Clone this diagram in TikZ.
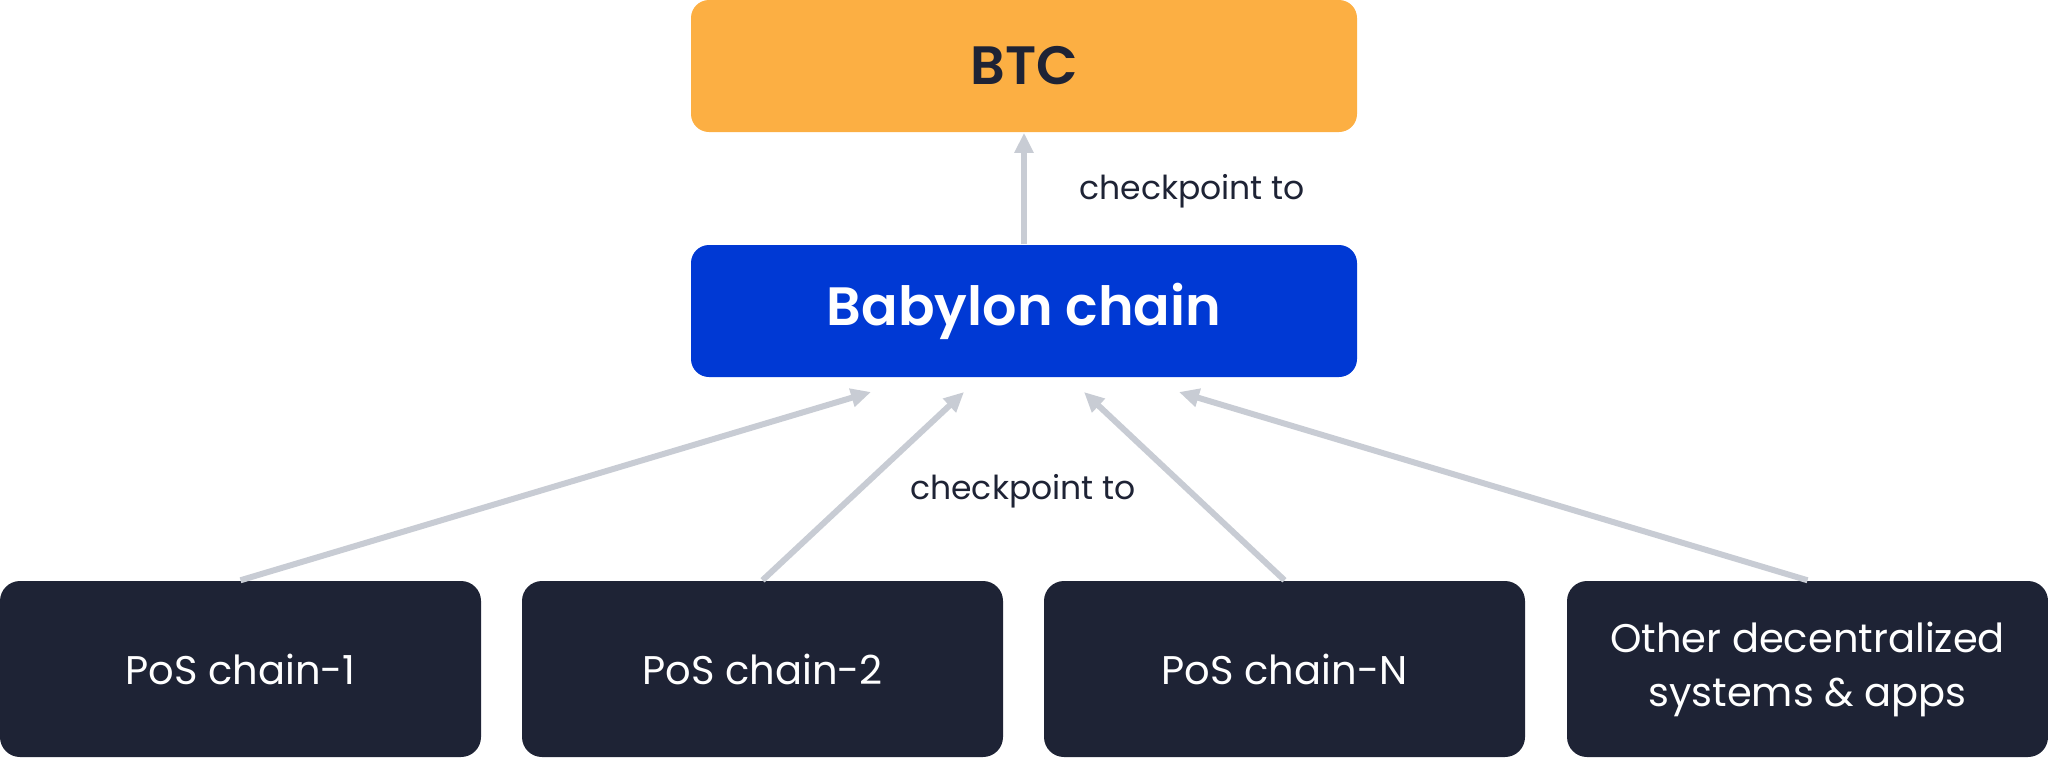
\documentclass[tikz,border=0pt]{standalone}
\usepackage{fontspec}
\setmainfont{Poppins}[BoldFont={Poppins SemiBold}]
\usetikzlibrary{arrows.meta}

\definecolor{btcorange}{RGB}{252,175,67}
\definecolor{babyblue}{RGB}{0,57,212}
\definecolor{darknavy}{RGB}{30,35,53}
\definecolor{arrowgrey}{RGB}{200,204,212}

\tikzset{every picture/.style={line width=0.75pt}}

\begin{document}
\begin{tikzpicture}[x=0.5pt,y=0.5pt,yscale=-1,xscale=1,
  topbox/.style={rounded corners=9pt, minimum width=333pt, minimum height=66pt, inner sep=0pt, font=\fontsize{27}{32}\selectfont\bfseries},
  chainbox/.style={fill=darknavy, text=white, rounded corners=10pt, minimum width=240.5pt, minimum height=88pt, inner sep=0pt, align=center, font=\fontsize{20}{27}\selectfont},
  linkarrow/.style={draw=arrowgrey, line width=3pt, -{Triangle[length=10pt,width=9pt]}},
  linklabel/.style={text=darknavy, inner sep=0pt, font=\fontsize{16.5}{20}\selectfont}]
\useasboundingbox (0,0) rectangle (2048,757);

% top boxes
\node [topbox, fill=btcorange, text=darknavy] (btc) at (1024,66) {BTC};
\node [topbox, fill=babyblue, text=white] (babylon) at (1024,311) {Babylon chain};

% chains
\node [chainbox] (pos1) at (240.5,669) {PoS chain-1};
\node [chainbox] (pos2) at (762.5,669) {PoS chain-2};
\node [chainbox] (posn) at (1284.5,669) {PoS chain-N};
\node [chainbox] (other) at (1807.5,669) {Other decentralized\\systems \& apps};

% arrow ends under Babylon
\coordinate (t1) at (871,392);
\coordinate (t2) at (964,392);
\coordinate (t3) at (1084,392);
\coordinate (t4) at (1179,392);

% arrows
\draw [linkarrow] (babylon.north) -- (btc.south);
\draw [linkarrow] (pos1.north) -- (t1);
\draw [linkarrow] (pos2.north) -- (t2);
\draw [linkarrow] (posn.north) -- (t3);
\draw [linkarrow] (other.north) -- (t4);

% labels
\node [linklabel] (cpupper) at (1192,191) {checkpoint to};
\node [linklabel] (cplower) at (1023,491) {checkpoint to};

\end{tikzpicture}
\end{document}
